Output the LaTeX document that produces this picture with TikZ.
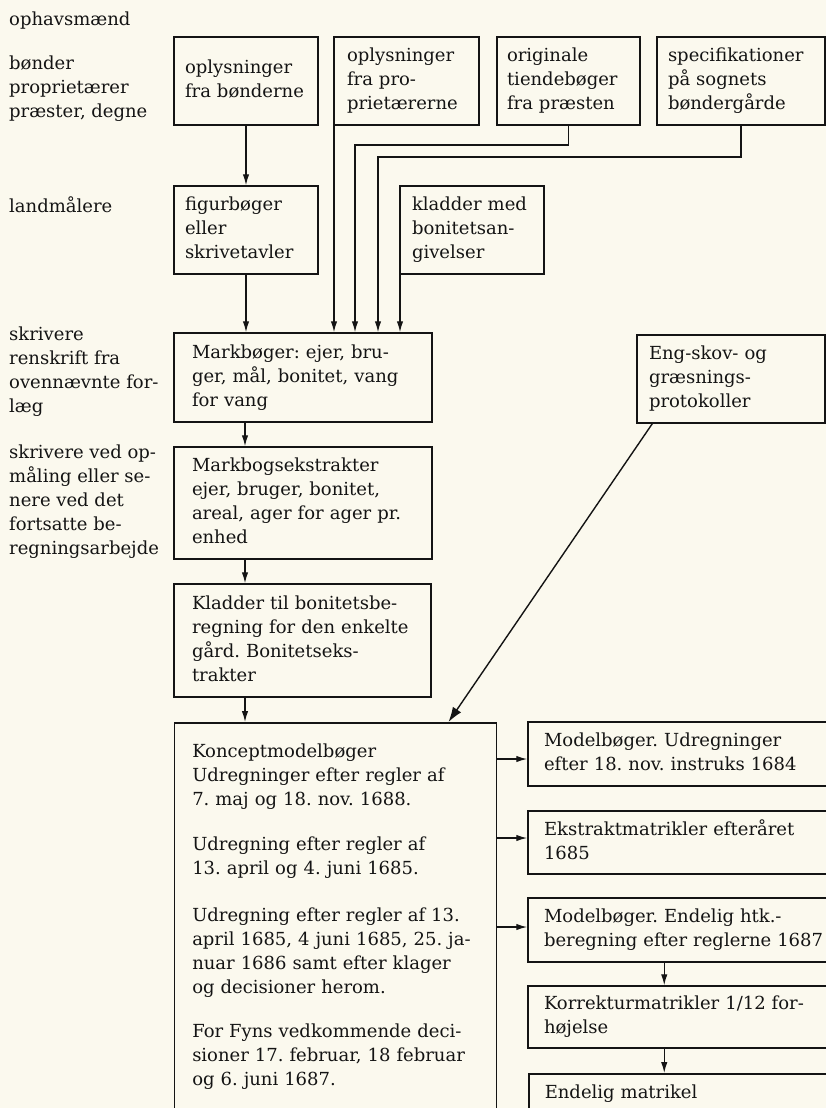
\documentclass[tikz,border=0pt]{standalone}
\usepackage{fontspec}
\setmainfont{DejaVu Serif}
\usetikzlibrary{arrows.meta,calc}
\definecolor{bgc}{RGB}{251,249,238}
\definecolor{ink}{RGB}{20,20,20}
\newcommand{\txtfont}{\fontsize{18bp}{24bp}\selectfont\frenchspacing}
\begin{document}
\begin{tikzpicture}[x=1bp,y=-1bp,
  box/.style={draw=ink, line width=1.5bp, align=left, text=ink, font=\txtfont,
    inner ysep=0pt, execute at begin node=\strut, execute at end node=\strut},
  lab/.style={anchor=north west, align=left, inner sep=0pt, text=ink, font=\txtfont,
    execute at begin node=\strut},
  arr/.style={draw=ink, line width=1.4bp, -{Latex[length=11bp,width=6.5bp]}},
  bigarr/.style={draw=ink, line width=1.4bp, -{Latex[length=15bp,width=10bp]}}]
\useasboundingbox (0,0) rectangle (826,1108);
\clip (0,0) rectangle (826,1108);
\fill[bgc] (0,0) rectangle (826,1108);

% left column labels
\node[lab] (l0) at (9,8) {ophavsmænd};
\node[lab] (l1) at (9,56) {bønder\\proprietærer\\præster, degne};
\node[lab] (l2) at (9,195) {landmålere};
\node[lab] (l3) at (9,327) {skrivere\\renskrift fra\\ovennævnte for-\\læg};
\node[lab] (l4) at (9,445) {skrivere ved op-\\måling eller se-\\nere ved det\\fortsatte be-\\regningsarbejde};

% top row
\node[box, text width=122bp, inner xsep=11bp, minimum height=88bp] (b1) at (246,81) {oplysninger\\fra bønderne};
\node[box, text width=119bp, inner xsep=13bp, minimum height=88bp] (b2) at (406.5,81) {oplysninger\\fra pro-\\prietærerne};
\node[box, text width=123bp, inner xsep=10bp, minimum height=88bp] (b3) at (568.5,81) {originale\\tiendebøger\\fra præsten};
\node[box, text width=146bp, inner xsep=11bp, minimum height=88bp] (b4) at (741,81) {specifikationer\\på sognets\\bøndergårde};

% second row
\node[box, text width=122bp, inner xsep=11bp, minimum height=88bp] (f) at (246,230) {figurbøger\\eller\\skrivetavler};
\node[box, text width=120bp, inner xsep=12bp, minimum height=88bp] (k) at (472,230) {kladder med\\bonitetsan-\\givelser};

% main column
\node[box, text width=222bp, inner xsep=18bp, minimum height=89bp] (m) at (303,377.5) {Markbøger: ejer, bru-\\ger, mål, bonitet, vang\\for vang};
\node[box, text width=164bp, inner xsep=12bp, minimum height=88bp] (e) at (731,379) {Eng-skov- og\\græsnings-\\protokoller};
\node[box, text width=222bp, inner xsep=18bp, minimum height=112bp] (mx) at (303,503) {Markbogsekstrakter\\ejer, bruger, bonitet,\\areal, ager for ager pr.\\enhed};
\node[box, text width=221bp, inner xsep=18bp, minimum height=113bp] (kb) at (302.5,640.5) {Kladder til bonitetsbe-\\regning for den enkelte\\gård. Bonitetseks-\\trakter};
\node[box, anchor=north west, text width=286bp, inner xsep=18bp, inner ysep=18.2bp] (big) at (173.5,722)
 {Konceptmodelbøger\\Udregninger efter regler af\\7. maj og 18. nov. 1688.\\[21bp]
  Udregning efter regler af\\13. april og 4. juni 1685.\\[23bp]
  Udregning efter regler af 13.\\april 1685, 4 juni 1685, 25. ja-\\nuar 1686 samt efter klager\\og decisioner herom.\\[20bp]
  For Fyns vedkommende deci-\\sioner 17. februar, 18 februar\\og 6. juni 1687.\\[40bp]\strut};

% right column
\node[box, text width=328bp, inner xsep=16bp, minimum height=64bp] (rA) at (708,754) {Modelbøger. Udregninger\\efter 18. nov. instruks 1684};
\node[box, text width=328bp, inner xsep=16bp, minimum height=63bp] (rB) at (708,842.5) {Ekstraktmatrikler efteråret\\1685};
\node[box, text width=328bp, inner xsep=16bp, minimum height=64bp] (rC) at (708,930) {Modelbøger. Endelig htk.-\\beregning efter reglerne 1687};
\node[box, text width=328bp, inner xsep=16bp, minimum height=62bp] (rD) at (708,1017) {Korrekturmatrikler 1/12 for-\\højelse};
\node[box, anchor=north west, text width=328bp, inner xsep=16bp, inner ysep=8.2bp] (rE) at (528,1073) {Endelig matrikel\\[30bp]\strut};

% connectors
\coordinate (col) at (245,0);
\coordinate (x2) at (334,0);
\coordinate (xk) at (400,0);
\coordinate (j3) at (355,145);
\coordinate (j4) at (378,157);
\draw[arr] (b1.south) -- (f.north);
\draw[arr] (x2 |- b2.south) -- (x2 |- m.north);
\draw[arr] (b3.south) |- (j3) -- (j3 |- m.north);
\draw[arr] (b4.south) |- (j4) -- (j4 |- m.north);
\draw[arr] (xk |- k.south) -- (xk |- m.north);
\draw[arr] (f.south) -- (f.south |- m.north);
\draw[arr] (col |- m.south) -- (col |- mx.north);
\draw[arr] (col |- mx.south) -- (col |- kb.north);
\draw[arr] (col |- kb.south) -- (col |- big.north);
\draw[bigarr] ([xshift=16bp]e.south west) -- ([xshift=275bp]big.north west);

\coordinate (pA) at ($(rA.west)+(0,5)$);
\coordinate (pB) at ($(rB.west)+(0,-4.5)$);
\coordinate (pC) at ($(rC.west)+(0,-3)$);
\draw[arr] (big.east |- pA) -- (pA);
\draw[arr] (big.east |- pB) -- (pB);
\draw[arr] (big.east |- pC) -- (pC);
\coordinate (qC) at ($(rC.south west)+(137,0)$);
\draw[arr] (qC) -- (qC |- rD.north);
\draw[arr] (qC |- rD.south) -- (qC |- rE.north);
\end{tikzpicture}
\end{document}
